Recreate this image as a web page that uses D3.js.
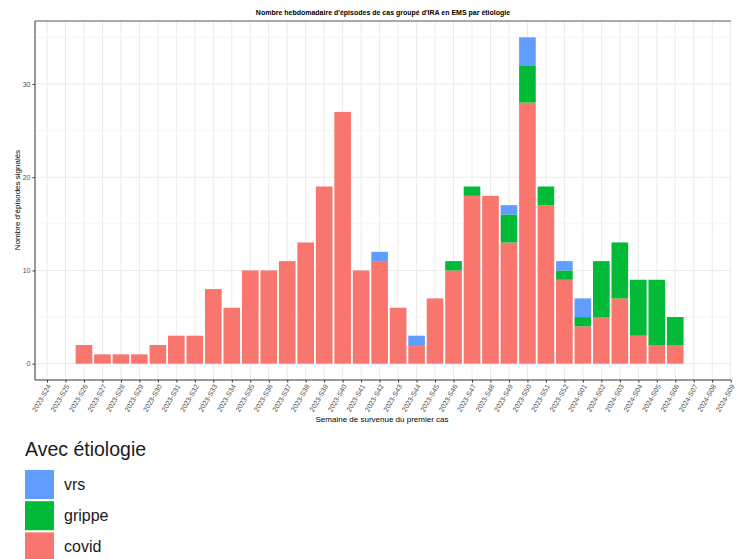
<!DOCTYPE html>
<html>
<head>
<meta charset="utf-8">
<script src="https://cdn.jsdelivr.net/npm/d3@7"></script>
<style>
  html, body { margin: 0; padding: 0; background: #fff; }
  svg { display: block; font-family: "Liberation Sans", Arial, sans-serif; }
</style>
</head>
<body>
<svg id="chart" width="744" height="559"></svg>
<script>
const weeks = [
  "2023-S24","2023-S25","2023-S26","2023-S27","2023-S28","2023-S29","2023-S30","2023-S31",
  "2023-S32","2023-S33","2023-S34","2023-S35","2023-S36","2023-S37","2023-S38","2023-S39",
  "2023-S40","2023-S41","2023-S42","2023-S43","2023-S44","2023-S45","2023-S46","2023-S47",
  "2023-S48","2023-S49","2023-S50","2023-S51","2023-S52","2024-S01","2024-S02","2024-S03",
  "2024-S04","2024-S05","2024-S06","2024-S07","2024-S08","2024-S09"
];
const covid  = [0,0,2,1,1,1,2,3,3,8,6,10,10,11,13,19,27,10,11,6,2,7,10,18,18,13,28,17,9,4,5,7,3,2,2,0,0,0];
const grippe = [0,0,0,0,0,0,0,0,0,0,0,0,0,0,0,0,0,0,0,0,0,0,1,1,0,3,4,2,1,1,6,6,6,7,3,0,0,0];
const vrs    = [0,0,0,0,0,0,0,0,0,0,0,0,0,0,0,0,0,0,1,0,1,0,0,0,0,1,3,0,1,2,0,0,0,0,0,0,0,0];
const yTicks = [0, 10, 20, 30];
const yMinor = [5, 15, 25, 35];
const seriesKeys = ["covid", "grippe", "vrs"];
const legendOrder = ["vrs", "grippe", "covid"];
const colors = { covid: "#F8766D", grippe: "#00BA38", vrs: "#619CFF" };
const title = "Nombre hebdomadaire d'épisodes de cas groupé d'IRA en EMS par étiologie";
const xTitle = "Semaine de survenue du premier cas";
const yTitle = "Nombre d'épisodes signalés";
const legendTitle = "Avec étiologie";

const rows = weeks.map((w, i) => ({ week: w, covid: covid[i], grippe: grippe[i], vrs: vrs[i] }));

const svg = d3.select("#chart");
const panel = { left: 35, right: 731, top: 21, bottom: 380 };

const x = d3.scalePoint().domain(weeks).range([47, 730.7]);
const step = x.step();
const bw = step * 0.9;
const y = d3.scaleLinear().domain([-1.75, 36.75]).range([panel.bottom, panel.top]);

svg.append("defs").append("clipPath").attr("id", "clip")
  .append("rect").attr("x", panel.left).attr("y", panel.top)
  .attr("width", panel.right - panel.left).attr("height", panel.bottom - panel.top);

const grid = svg.append("g").attr("clip-path", "url(#clip)");
grid.selectAll("line.minor").data(yMinor).join("line")
  .attr("x1", panel.left).attr("x2", panel.right)
  .attr("y1", d => y(d)).attr("y2", d => y(d))
  .attr("stroke", "#f0f0f0").attr("stroke-width", 0.6);
grid.selectAll("line.hmaj").data(yTicks).join("line")
  .attr("x1", panel.left).attr("x2", panel.right)
  .attr("y1", d => y(d)).attr("y2", d => y(d))
  .attr("stroke", "#ebebeb").attr("stroke-width", 1);
grid.selectAll("line.vmaj").data(weeks).join("line")
  .attr("y1", panel.top).attr("y2", panel.bottom)
  .attr("x1", d => x(d)).attr("x2", d => x(d))
  .attr("stroke", "#ebebeb").attr("stroke-width", 1);

const stacked = d3.stack().keys(seriesKeys)(rows);
const bars = svg.append("g").attr("clip-path", "url(#clip)");
bars.selectAll("g").data(stacked).join("g")
  .attr("fill", d => colors[d.key])
  .selectAll("rect").data(d => d.filter(s => s[1] - s[0] > 0)).join("rect")
  .attr("x", d => x(d.data.week) - bw / 2)
  .attr("width", bw)
  .attr("y", d => y(d[1]))
  .attr("height", d => y(d[0]) - y(d[1]));

// axis lines
svg.append("line").attr("x1", panel.left).attr("x2", panel.left)
  .attr("y1", panel.top).attr("y2", panel.bottom).attr("stroke", "#333").attr("stroke-width", 1);
svg.append("line").attr("x1", panel.left).attr("x2", panel.right)
  .attr("y1", panel.bottom).attr("y2", panel.bottom).attr("stroke", "#333").attr("stroke-width", 1);
svg.append("line").attr("x1", panel.left).attr("x2", panel.right)
  .attr("y1", panel.top).attr("y2", panel.top).attr("stroke", "#555").attr("stroke-width", 1);

// y axis
const yAxis = d3.axisLeft(y).tickValues(yTicks).tickSize(2.5).tickPadding(2);
const gy = svg.append("g").attr("transform", `translate(${panel.left},0)`).call(yAxis);
gy.select(".domain").remove();
gy.selectAll(".tick line").attr("stroke", "#333");
gy.selectAll(".tick text").attr("fill", "#4d4d4d").style("font-size", "7px")
  .style("font-family", "'Liberation Sans', Arial, sans-serif");

// x axis
const xAxis = d3.axisBottom(x).tickSize(2.5).tickFormat(d => d);
const gx = svg.append("g").attr("transform", `translate(0,${panel.bottom})`).call(xAxis);
gx.select(".domain").remove();
gx.selectAll(".tick line").attr("stroke", "#333");
gx.selectAll(".tick text")
  .attr("fill", "#4d4d4d").style("font-size", "7px")
  .style("font-family", "'Liberation Sans', Arial, sans-serif")
  .attr("text-anchor", "end")
  .attr("y", 0).attr("dy", 0)
  .attr("transform", "translate(3.8,6.2) rotate(-60)");

// titles
svg.append("text").attr("x", (panel.left + panel.right) / 2).attr("y", 14.5)
  .attr("text-anchor", "middle").style("font-size", "7px").style("font-weight", "bold")
  .attr("fill", "#000").text(title);
svg.append("text").attr("x", 382).attr("y", 422)
  .attr("text-anchor", "middle").style("font-size", "8px").attr("fill", "#000").text(xTitle);
svg.append("text").attr("transform", "translate(19.5,200) rotate(-90)")
  .attr("text-anchor", "middle").style("font-size", "8px").attr("fill", "#000").text(yTitle);

// legend
const lg = svg.append("g");
lg.append("text").attr("x", 25).attr("y", 456).style("font-size", "19.5px")
  .attr("fill", "#1a1a1a").text(legendTitle);
const keyH = 29, keyGap = 31.2;
const items = lg.selectAll("g.item").data(legendOrder).join("g")
  .attr("transform", (d, i) => `translate(25,${470 + i * keyGap})`);
items.append("rect").attr("width", 29).attr("height", keyH).attr("fill", d => colors[d]);
items.append("text").attr("x", 39).attr("y", keyH / 2 + 5.5)
  .style("font-size", "16px").attr("fill", "#1a1a1a").text(d => d);
</script>
</body>
</html>
